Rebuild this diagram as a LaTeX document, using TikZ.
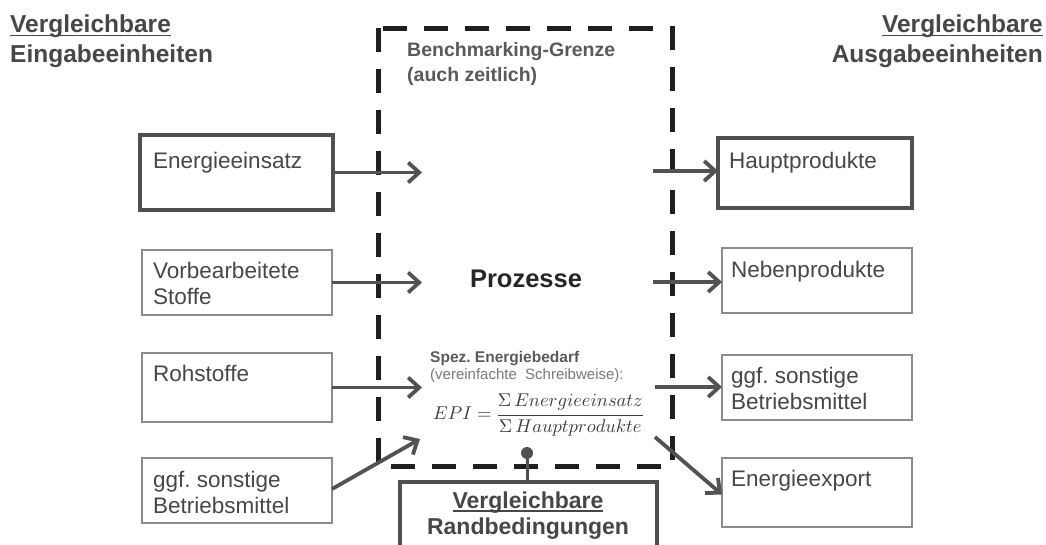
\documentclass[tikz,border=0pt]{standalone}
\usepackage{fontspec}
\setmainfont{Liberation Sans}
\usetikzlibrary{arrows.meta}
% scalable Computer Modern math at every size
\DeclareFontShape{OML}{cmm}{m}{it}{<->cmmi10}{}
\DeclareFontShape{OMS}{cmsy}{m}{n}{<->cmsy10}{}
\DeclareFontShape{OMX}{cmex}{m}{n}{<->cmex10}{}
\DeclareFontShape{OT1}{cmr}{m}{n}{<->cmr10}{}
\frenchspacing

% text with a rule just below the baseline
\newcommand\ulinetext[1]{\setbox0\hbox{#1}\rlap{\rule[-3.2pt]{\wd0}{1.5pt}}\box0}

\definecolor{txt}{HTML}{474747}
\definecolor{boxline}{HTML}{505050}
\definecolor{thinline}{HTML}{8C8C8C}
\definecolor{arrowc}{HTML}{525252}
\definecolor{notec}{HTML}{7A7A7A}

\begin{document}
\begin{tikzpicture}[x=1pt,y=-1pt,
  boxbase/.style={rectangle, inner sep=0pt, outer sep=0pt, anchor=north west},
  heavybox/.style={boxbase, draw=boxline, line width=3.5pt},
  lightbox/.style={boxbase, draw=thinline, line width=1.3pt},
  boxtext/.style={anchor=north west, inner sep=0pt, align=left, text=txt,
    font=\fontsize{22.5}{26}\selectfont},
  flow/.style={draw=arrowc, line width=3.8pt,
    -{Straight Barb[length=11pt,width=20pt]}},
  frontier/.style={draw=black!88, line width=5pt, dash pattern=on 24pt off 17pt},
  heading/.style={inner sep=0pt, text=txt, font=\bfseries\fontsize{24.5}{30}\selectfont},
]
\clip (0,0) rectangle (1046,544);
\fill[white] (0,0) rectangle (1046,544);

% column headings
\node[heading, anchor=north west, align=left] (inhead) at (10,15)
  {\ulinetext{Vergleichbare}\\Eingabeeinheiten};
\node[heading, anchor=north east, align=right] (outhead) at (1043,15)
  {\ulinetext{Vergleichbare}\\Ausgabeeinheiten};

% system boundary
\draw[frontier] (378,28) rectangle (672,466);
\node[anchor=north west, inner sep=0pt, align=left, text=txt!90,
  font=\bfseries\fontsize{19.5}{25}\selectfont] (grenze) at (407,42.5)
  {Benchmarking-Grenze\\(auch zeitlich)};

% processes and indicator
\node[anchor=base, inner sep=0pt, text=black!85,
  font=\bfseries\fontsize{25.5}{30}\selectfont] (proz) at (526,287) {Prozesse};
\node[anchor=base west, inner sep=0pt, text=txt!90,
  font=\bfseries\fontsize{15.5}{18}\selectfont] (spez) at (430,362)
  {Spez. Energiebedarf};
\node[anchor=base west, inner sep=0pt, text=notec,
  font=\fontsize{15}{18}\selectfont] (schreib) at (430,379)
  {(vereinfachte\ \ Schreibweise):};
\node[anchor=base west, inner sep=0pt, text=txt!85!black,
  font=\fontsize{18.5}{22}\selectfont] (epi) at (433,419.5)
  {$\displaystyle EPI=\frac{\Sigma\,Energieeinsatz}{\Sigma\,Hauptprodukte}$};

% input boxes
\node[heavybox, minimum width=193pt, minimum height=75pt] (ein1) at (140,135) {};
\node[lightbox, minimum width=190pt, minimum height=65pt] (ein2) at (142,250) {};
\node[lightbox, minimum width=190pt, minimum height=69pt] (ein3) at (142,353) {};
\node[lightbox, minimum width=190pt, minimum height=65pt] (ein4) at (142,458) {};
\node[boxtext] (t1) at ([shift={(13,16.5)}]ein1.north west) {Energieeinsatz};
\node[boxtext] (t2) at ([shift={(11,11.5)}]ein2.north west) {Vorbearbeitete\\Stoffe};
\node[boxtext] (t3) at ([shift={(11,11.5)}]ein3.north west) {Rohstoffe};
\node[boxtext] (t4) at ([shift={(11,12.5)}]ein4.north west) {ggf. sonstige\\Betriebsmittel};

% output boxes
\node[heavybox, minimum width=194pt, minimum height=70pt] (aus1) at (718,138) {};
\node[lightbox, minimum width=190pt, minimum height=65pt] (aus2) at (722,248) {};
\node[lightbox, minimum width=190pt, minimum height=65pt] (aus3) at (722,355) {};
\node[lightbox, minimum width=190pt, minimum height=69pt] (aus4) at (722,458) {};
\node[boxtext] (u1) at ([shift={(11,13.5)}]aus1.north west) {Hauptprodukte};
\node[boxtext] (u2) at ([shift={(9,12.5)}]aus2.north west) {Nebenprodukte};
\node[boxtext] (u3) at ([shift={(9,11.5)}]aus3.north west) {ggf. sonstige\\Betriebsmittel};
\node[boxtext] (u4) at ([shift={(9,11.5)}]aus4.north west) {Energieexport};

% boundary conditions
\node[heavybox, minimum width=257pt, minimum height=80pt] (rand) at (400,482) {};
\node[anchor=north, inner sep=0pt, align=center, text=txt,
  font=\bfseries\fontsize{23}{26}\selectfont] (randtext) at (528,491.5)
  {\ulinetext{Vergleichbare}\\Randbedingungen};
\node[circle, fill=boxline, inner sep=0pt, minimum size=12pt] (pin) at (527,453) {};
\draw[draw=boxline, line width=3pt] (pin) -- (pin |- rand.north);

% flow arrows into the process
\coordinate (in1) at (422,172);
\coordinate (in2) at (422,282);
\coordinate (in3) at (422,387);
\coordinate (in4) at (420,439);
\draw[flow] (ein1.east) -- (ein1.east -| in1);
\draw[flow] (ein2.east) -- (ein2.east -| in2);
\draw[flow] (ein3.east) -- (ein3.east -| in3);
\draw[flow] ([yshift=1.5]ein4.east) -- (in4);

% flow arrows out of the process
\coordinate (out1) at (653,171);
\coordinate (out2) at (653,282);
\coordinate (out3) at (655,387);
\coordinate (out4) at (655,437);
\draw[flow] (out1) -- (aus1.west |- out1);
\draw[flow] (out2) -- (aus2.west |- out2);
\draw[flow] (out3) -- (aus3.west |- out3);
\draw[flow] (out4) -- ([yshift=-2]aus4.west);
\end{tikzpicture}
\end{document}
